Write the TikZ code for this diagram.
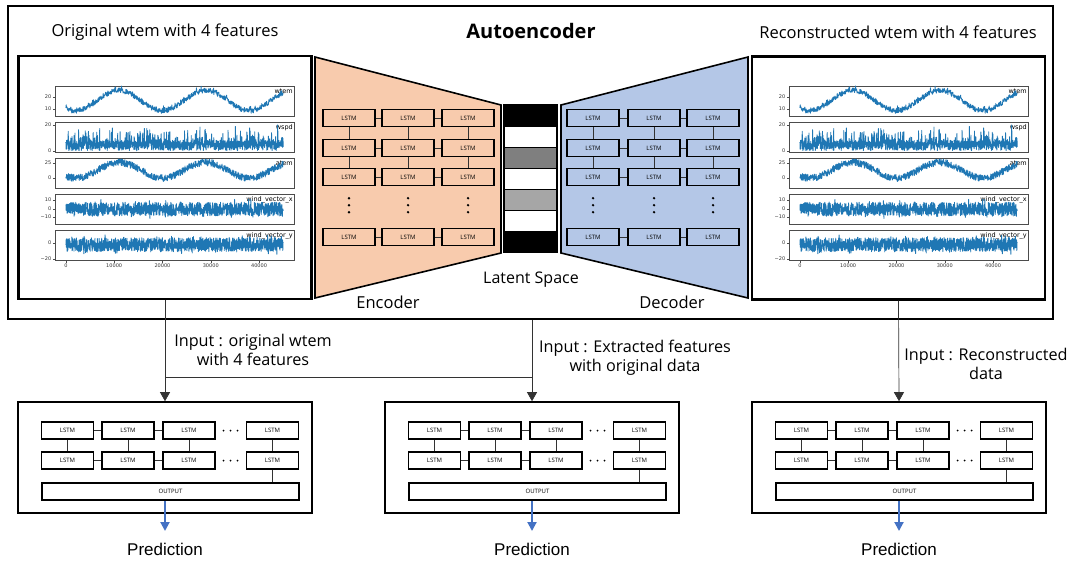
\documentclass[tikz,border=0pt]{standalone}
\usepackage{fontspec}
\setmainfont{Open Sans}
\newfontfamily\arialfont{Liberation Sans}
\newfontfamily\mplfont{DejaVu Sans}
\usetikzlibrary{arrows.meta,calc,positioning}
\definecolor{encfill}{HTML}{F8CBAD}
\definecolor{decfill}{HTML}{B4C7E7}
\definecolor{tabblue}{HTML}{1F77B4}
\definecolor{predblue}{HTML}{4472C4}
\definecolor{latdark}{HTML}{7F7F7F}
\definecolor{latlight}{HTML}{A6A6A6}
\tikzset{
    frame/.style={draw, line width=1.6pt, inner sep=0pt},
    plotbox/.style={draw, line width=2.4pt, fill=white, minimum width=293pt, minimum height=243pt, inner sep=0pt},
    lstm/.style={draw, line width=1.5pt, fill=#1, minimum width=52pt, minimum height=17pt, inner sep=0pt, font=\fontsize{6}{7}\selectfont},
    lstm/.default=white,
    outbox/.style={draw, line width=1.5pt, fill=white, minimum width=257pt, minimum height=17pt, inner sep=0pt, font=\fontsize{6}{7}\selectfont},
    latentbar/.style={draw, line width=1.2pt, minimum width=53pt, minimum height=21.1pt, inner sep=0pt},
    link/.style={line width=0.7pt, black!80},
    feed/.style={line width=0.7pt, black!80, -{Triangle[width=10pt,length=9pt]}},
    predarrow/.style={line width=2pt, predblue, -{Triangle[width=9pt,length=9pt]}},
    title/.style={font=\fontsize{16.5}{19}\selectfont},
    note/.style={font=\fontsize{16.2}{19}\selectfont, align=center},
    predtext/.style={font=\arialfont\fontsize{17}{20}\selectfont},
    axisline/.style={line width=0.45pt, black!70},
    series/.style={tabblue, line width=0.85pt, line join=round},
    ticklabel/.style={font=\mplfont\fontsize{5}{6}\selectfont, text=black!80, inner sep=1pt},
    panellabel/.style={font=\mplfont\fontsize{6.5}{7}\selectfont, inner sep=0.5pt, anchor=north east}
}
% five feature panels, axes origin at the top left corner
\newcommand{\featurepanels}{%
    \pgfmathsetseed{7}%
    \foreach \k/\name in {0/wtem,1/wspd,2/atem,3/wind\_vector\_x,4/wind\_vector\_y}{
        \draw[axisline] (0,36*\k) rectangle (239,36*\k+30);
        \node[panellabel] at (238.5,36*\k+2) {\name};
    }
    % wtem
    \draw[series] plot[domain=10.9:228.2, samples=700] (\x, {11+(3+8.5*cos((\x-10.9)*4.1425-40)-2.2*rand-2*rnd^8)*1.2});
    % wspd
    \draw[series] plot[domain=10.9:228.2, samples=1100] (\x, {39+(20-(0.2+8*rnd+12*rnd^8))*1.3});
    % atem
    \draw[series] plot[domain=10.9:228.2, samples=800] (\x, {92-(13-13*cos((\x-10.9)*4.1425-40)+6*rand)*0.6});
    % wind vectors
    \draw[series] plot[domain=10.9:228.2, samples=1100] (\x, {123-(8*rand+6*rand*rnd^5)*0.85});
    \draw[series] plot[domain=10.9:228.2, samples=1100] (\x, {157-(-2+9*rand+8*rand*rnd^5)*0.8});
    % ticks
    \foreach \ty/\tl in {11/20, 23/10, 39/20, 65/0, 77/25, 92/0, 114/10, 123/0, 131/−10, 157/0, 173/−20}
        \draw[axisline] (0,\ty) -- (-2.5,\ty) node[ticklabel, left] {\tl};
    \foreach \i/\tl in {0/0, 1/10000, 2/20000, 3/30000, 4/40000}
        \draw[axisline] (10.9+48.28*\i,174) -- (10.9+48.28*\i,176.5) node[ticklabel, below] {\tl};
}

\begin{document}
\begin{tikzpicture}[x=1pt, y=-1pt]
    \useasboundingbox (0,0) rectangle (1075,563);

    % Autoencoder frame and titles.
    \node[frame, minimum width=1045pt, minimum height=313pt] (ae) at (530.5,162.5) {};
    \node[title] (origtitle) at (165,32) {Original wtem with 4 features};
    \node[title, font=\bfseries\fontsize{20}{22}\selectfont] (aetitle) at (531,31) {Autoencoder};
    \node[title] (rectitle) at (898,32) {Reconstructed wtem with 4 features};

    % Feature plots.
    \node[plotbox] (origplot) at (165,177.5) {};
    \begin{scope}[shift={(55,86)}]
        \featurepanels
    \end{scope}
    \node[plotbox] (recplot) at (898.5,178) {};
    \begin{scope}[shift={(789,86)}]
        \featurepanels
    \end{scope}

    % Encoder and decoder.
    \draw[frame, fill=encfill] (315,57) -- (501,105) -- (501,253) -- (315,298) -- cycle;
    \draw[frame, fill=decfill] (561,105) -- (748,57) -- (748,298) -- (561,253) -- cycle;
    \foreach \side/\col/\xa/\xb/\xc in {enc/encfill/349/408/468, dec/decfill/593/654/713}{
        \foreach \c/\cx in {1/\xa,2/\xb,3/\xc}
            \foreach \r/\ry in {1/118,2/148,3/177,4/237}
                \node[lstm=\col] (\side\r\c) at (\cx,\ry) {LSTM};
        \foreach \r in {1,...,4}{
            \draw[link] (\side\r1) -- (\side\r2);
            \draw[link] (\side\r2) -- (\side\r3);
        }
        \foreach \c in {1,2,3}{
            \draw[link] (\side1\c) -- (\side2\c) -- (\side3\c);
            \foreach \d in {-7,0,7}
                \fill ($(\side3\c)!0.47!(\side4\c)+(0,\d)$) circle (1.3);
        }
    }

    % Latent space.
    \foreach \i/\c in {0/black,1/white,2/latdark,3/white,4/latlight,5/white,6/black}
        \node[latentbar, fill=\c] (z\i) at (530.5,115.6+21.1*\i) {};
    \node[title, font=\fontsize{16}{19}\selectfont] (latent) at (531,280) {Latent Space};
    \node[title] (enclabel) at (388,302) {Encoder};
    \node[title] (declabel) at (672,302) {Decoder};

    % Prediction models.
    \foreach \p/\bx in {L/18,M/385,R/752}{
        \node[frame, minimum width=294pt, minimum height=111pt] (pred\p) at (\bx+147,457.5) {};
        \foreach \r/\ry in {1/430.5,2/460.5}{
            \foreach \c/\cx in {1/49.5,2/110,3/171,4/254.5}
                \node[lstm] (\p\r\c) at (\bx+\cx,\ry) {LSTM};
            \foreach \d in {-7,0,7}
                \fill (\bx+212.5+\d,\ry) circle (1);
            \draw[link] (\p\r1) -- (\p\r2);
            \draw[link] (\p\r2) -- (\p\r3);
        }
        \foreach \c in {1,...,4}
            \draw[link] (\p1\c) -- (\p2\c);
        \node[outbox] (\p out) at (\bx+152.5,491.5) {OUTPUT};
        \draw[link] (\p24.south) -- (\p24.south |- \p out.north);
        \coordinate (\p tip) at (\bx+147,531);
        \draw[predarrow] (\p out.south -| \p tip) -- (\p tip);
        \node[predtext] (\p text) at (\bx+147,549) {Prediction};
    }

    % Inputs.
    \coordinate (midrow) at (0,377);
    \draw[feed] (origplot.south) -- (predL.north);
    \draw[link] (origplot.south |- midrow) -- (predM.north |- midrow);
    \draw[feed] (predM.north |- ae.south) -- (predM.north);
    \draw[feed] (recplot.south) -- (predR.north);
    \node[note] (inL) at (253,350) {Input : original wtem\\with 4 features};
    \node[note] (inM) at (635,358) {Input : Extracted features\\with original data};
    \node[note] (inR) at (986,364) {Input : Reconstructed\\data};

\end{tikzpicture}
\end{document}
